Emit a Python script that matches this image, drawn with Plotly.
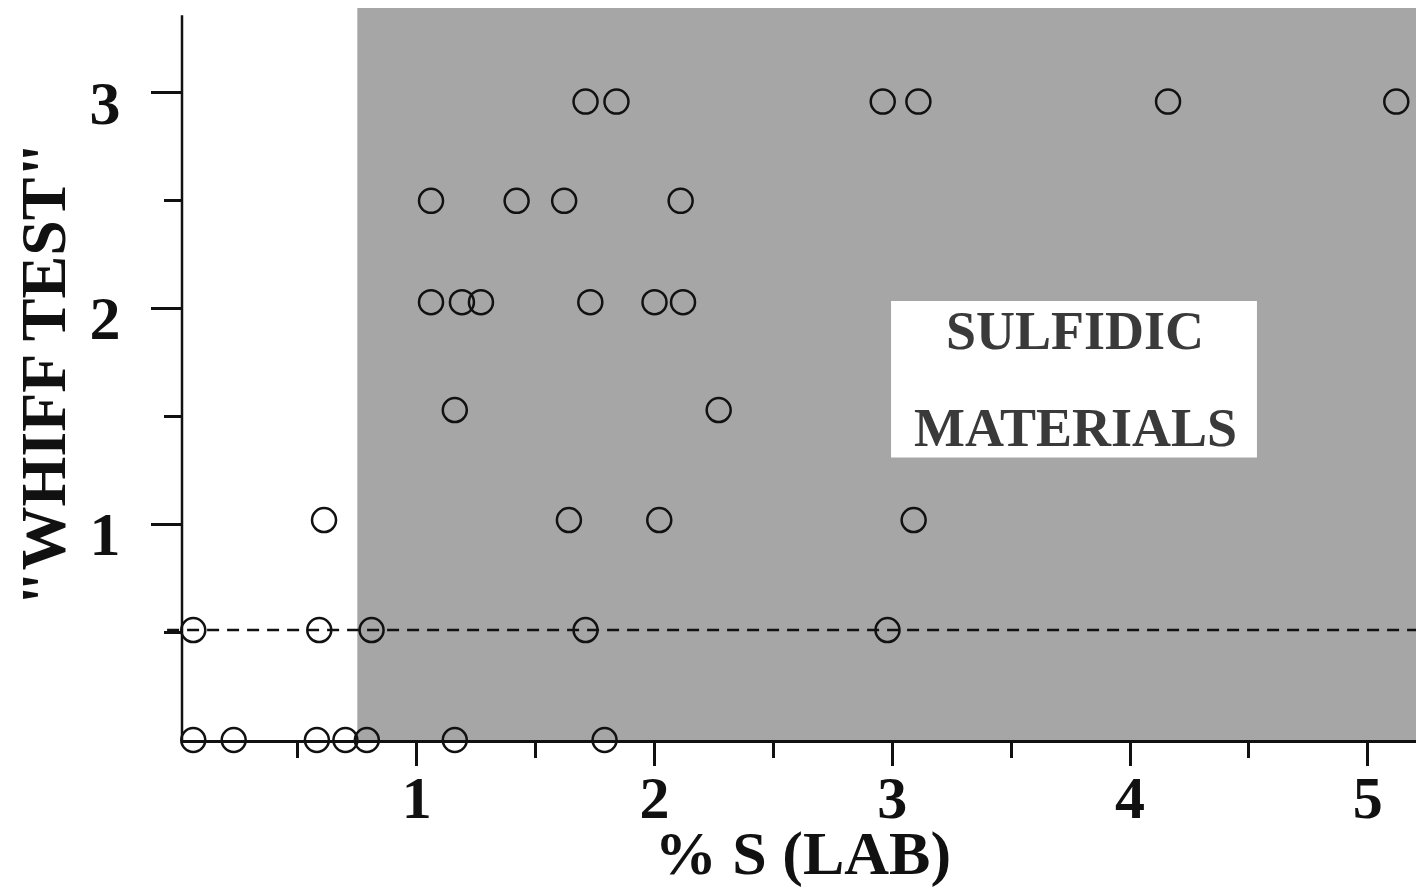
import plotly.graph_objects as go

# Data: % S (lab) vs "whiff test" rating
x_r3 = [1.71, 1.84, 2.96, 3.11, 4.16, 5.12]
x_r25 = [1.06, 1.42, 1.62, 2.11]
x_r2 = [1.06, 1.19, 1.27, 1.73, 2.00, 2.12]
x_r15 = [1.16, 2.27]
x_r1 = [0.61, 1.64, 2.02, 3.09]
x_r05 = [0.06, 0.59, 0.81, 1.71, 2.98]
x_r0 = [0.06, 0.23, 0.58, 0.70, 0.79, 1.16, 1.79]

whiff_levels = [2.96, 2.50, 2.03, 1.53, 1.02, 0.51, 0.0]
rows = [x_r3, x_r25, x_r2, x_r15, x_r1, x_r05, x_r0]

xs, ys = [], []
for lvl, r in zip(whiff_levels, rows):
    xs += r
    ys += [lvl] * len(r)

x_ticks = [1, 2, 3, 4, 5]
x_minor = [0.5, 1.5, 2.5, 3.5, 4.5]
y_ticks = [1, 2, 3]
y_minor = [0.5, 1.5, 2.5]
sulfidic_threshold = 0.75
whiff_threshold = 0.5

FONT = "Liberation Serif"

fig = go.Figure()
fig.add_trace(go.Scatter(
    x=xs, y=ys, mode="markers",
    marker=dict(symbol="circle-open", size=24, color="#111111",
                line=dict(width=2.5, color="#111111")),
    showlegend=False, cliponaxis=False,
))

shapes = [
    # shaded "sulfidic" region
    dict(type="rect", xref="x", yref="paper", x0=sulfidic_threshold, x1=5.3,
         y0=0, y1=1, fillcolor="#a6a6a6", line=dict(width=0), layer="below"),
    # white label box
    dict(type="rect", xref="x", yref="y", x0=2.995, x1=4.534, y0=1.31, y1=2.035,
         fillcolor="white", line=dict(width=0), layer="below"),
    # dashed threshold line
    dict(type="line", xref="paper", yref="y", x0=-0.012, x1=1,
         y0=whiff_threshold + 0.01, y1=whiff_threshold + 0.01,
         line=dict(color="#111111", width=2.5, dash="12px,8px"), layer="above"),
    # y axis line
    dict(type="line", xref="paper", yref="y", x0=0, x1=0, y0=0, y1=3.36,
         line=dict(color="#111111", width=2.5), layer="above"),
]

annotations = [
    dict(x=3.77, y=1.895, xref="x", yref="y", text="<b>SULFIDIC</b>", showarrow=False,
         font=dict(family=FONT, size=54, color="#3a3a3a")),
    dict(x=3.77, y=1.445, xref="x", yref="y", text="<b>MATERIALS</b>", showarrow=False,
         font=dict(family=FONT, size=54, color="#3a3a3a")),
]

fig.update_layout(
    width=1416, height=880,
    margin=dict(l=174, r=0, t=0, b=148),
    paper_bgcolor="white", plot_bgcolor="white",
    shapes=shapes, annotations=annotations,
    font=dict(family=FONT, color="#111111"),
    xaxis=dict(
        range=[0.0126, 5.2366], tickmode="array", tickvals=x_ticks,
        ticktext=[f"<b>{v}</b>" for v in x_ticks],
        ticks="outside", ticklen=23, tickwidth=2.5, tickcolor="#111111",
        minor=dict(tickmode="array", tickvals=x_minor, ticks="outside",
                   ticklen=15, tickwidth=2.5, tickcolor="#111111"),
        showline=True, linewidth=2.5, linecolor="#111111",
        showgrid=False, zeroline=False,
        tickfont=dict(family=FONT, size=60, color="#111111"),
        ticklabelstandoff=-20,
        title=dict(text="<b>% S (LAB)</b>", font=dict(family=FONT, size=62, color="#111111"),
                   standoff=0),
        automargin=False,
    ),
    yaxis=dict(
        range=[0, 3.394], tickmode="array", tickvals=y_ticks,
        ticktext=[f"<b>{v}</b>" for v in y_ticks],
        ticks="outside", ticklen=30, tickwidth=2.5, tickcolor="#111111",
        minor=dict(tickmode="array", tickvals=y_minor, ticks="outside",
                   ticklen=17, tickwidth=2.5, tickcolor="#111111"),
        showline=False, showgrid=False, zeroline=False,
        tickfont=dict(family=FONT, size=62, color="#111111"),
        ticklabelstandoff=18, ticklabelshift=9,
        title=dict(text='<b>"WHIFF TEST"</b>', font=dict(family=FONT, size=64, color="#111111"),
                   standoff=8),
        automargin=False,
    ),
)

fig.write_html("out.html")
